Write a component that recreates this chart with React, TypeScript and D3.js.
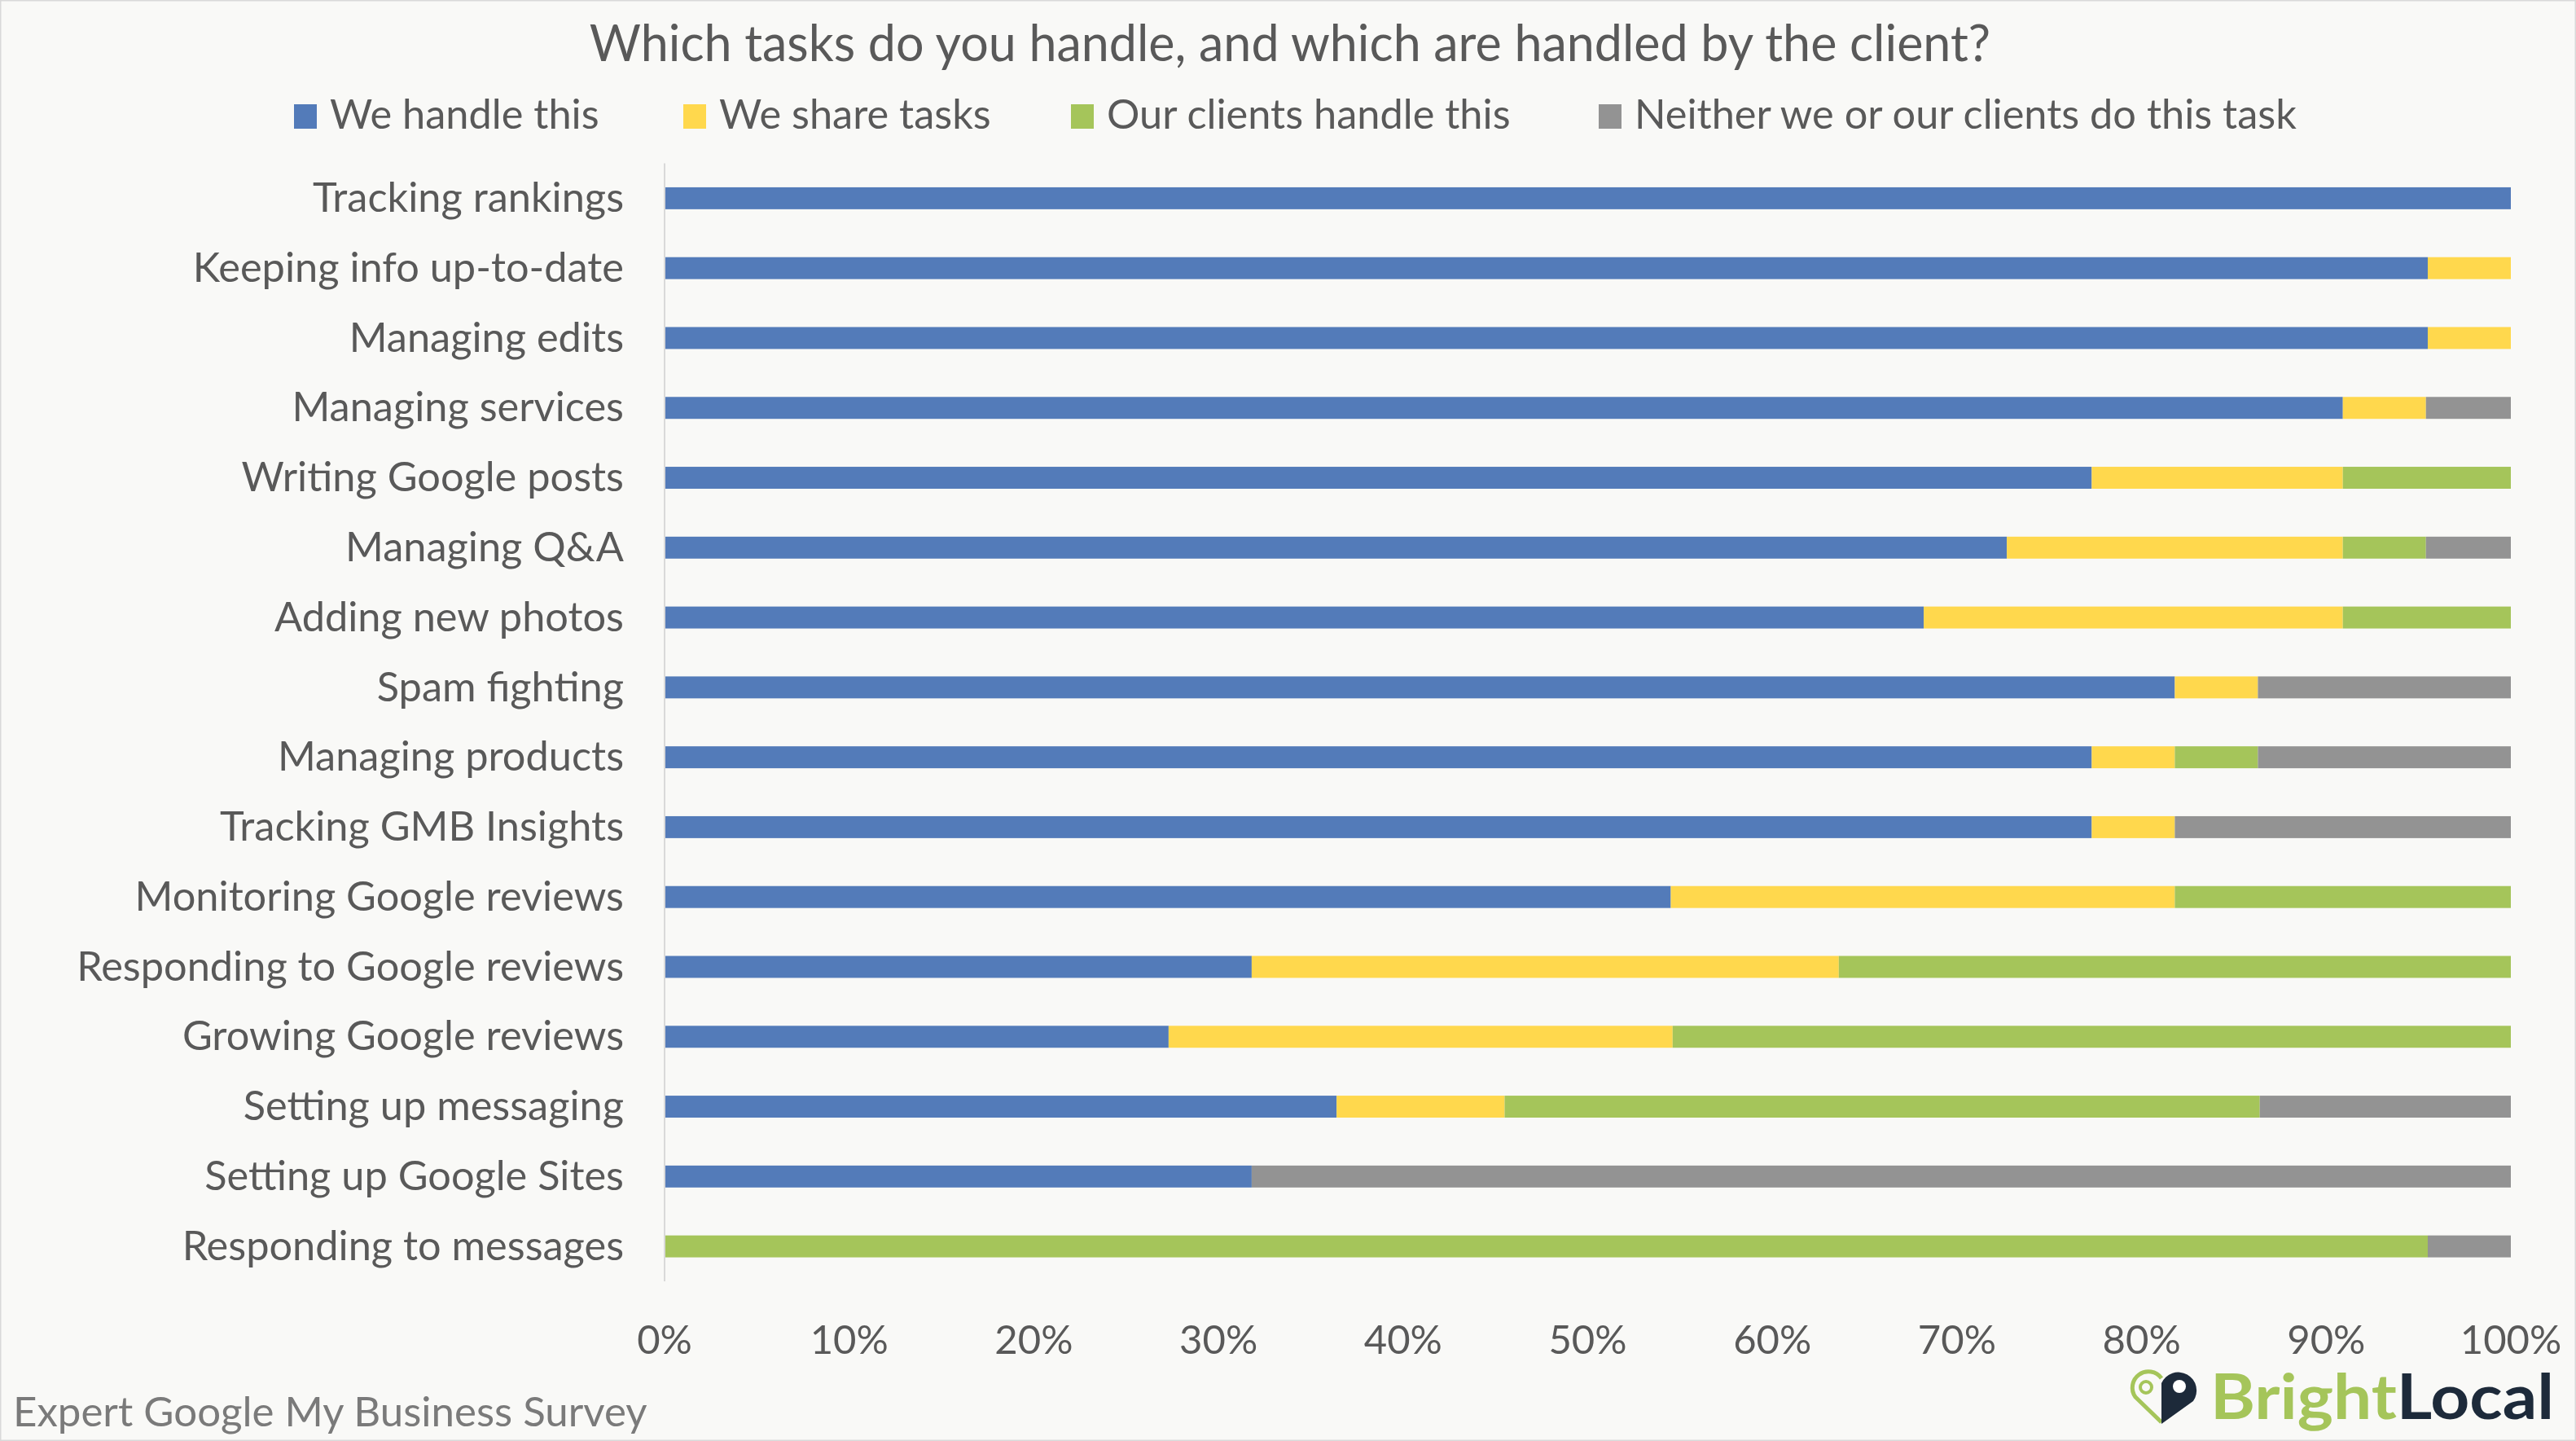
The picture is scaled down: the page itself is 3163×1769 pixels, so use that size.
import React from "react";
import * as d3 from "d3";

const categories = [
  "Tracking rankings",
  "Keeping info up-to-date",
  "Managing edits",
  "Managing services",
  "Writing Google posts",
  "Managing Q&A",
  "Adding new photos",
  "Spam fighting",
  "Managing products",
  "Tracking GMB Insights",
  "Monitoring Google reviews",
  "Responding to Google reviews",
  "Growing Google reviews",
  "Setting up messaging",
  "Setting up Google Sites",
  "Responding to messages",
];

const weHandle = [100, 95.5, 95.5, 90.9, 77.3, 72.7, 68.2, 81.8, 77.3, 77.3, 54.5, 31.8, 27.3, 36.4, 31.8, 0];
const weShare = [0, 4.5, 4.5, 4.5, 13.6, 18.2, 22.7, 4.5, 4.5, 4.5, 27.3, 31.8, 27.3, 9.1, 0, 0];
const clientsHandle = [0, 0, 0, 0, 9.1, 4.5, 9.1, 0, 4.5, 0, 18.2, 36.4, 45.4, 40.9, 0, 95.5];
const neither = [0, 0, 0, 4.6, 0, 4.6, 0, 13.7, 13.7, 18.2, 0, 0, 0, 13.6, 68.2, 4.5];

const seriesNames = ["We handle this", "We share tasks", "Our clients handle this", "Neither we or our clients do this task"];
const seriesKeys = ["we", "share", "clients", "neither"];
const seriesColors = ["#537bb9", "#ffd84d", "#a5c55a", "#939393"];
const tickValues = [0, 10, 20, 30, 40, 50, 60, 70, 80, 90, 100];

const W = 3163;
const H = 1769;
const FONT = "Lato, 'Open Sans', sans-serif";
const TEXT = "#595959";

export default function App() {
  const rows = categories.map((c, i) => ({
    cat: c,
    we: weHandle[i],
    share: weShare[i],
    clients: clientsHandle[i],
    neither: neither[i],
  }));
  const stacked = d3.stack<any>().keys(seriesKeys)(rows);

  const x = d3.scaleLinear().domain([0, 100]).range([816, 3083]);
  const y = d3
    .scaleBand<string>()
    .domain(categories)
    .range([200.5, 1573])
    .paddingInner(0.686)
    .paddingOuter(0.343);

  const legendX = [361, 839, 1315, 1963];

  return (
    <svg
      width={W}
      height={H}
      style={{ position: "absolute", left: 0, top: 0, display: "block" }}
      fontFamily={FONT}
    >
      <rect x={0.5} y={0.5} width={W - 1} height={H - 1} fill="#f9f9f7" stroke="#d9d9d9" strokeWidth={2} />

      <text x={1584} y={75} textAnchor="middle" fontSize={61} fill={TEXT}>
        Which tasks do you handle, and which are handled by the client?
      </text>

      {seriesNames.map((n, i) => (
        <g key={n}>
          <rect x={legendX[i]} y={128} width={28} height={30} fill={seriesColors[i]} />
          <text x={legendX[i] + 44} y={158} fontSize={50.5} fill={TEXT}>
            {n}
          </text>
        </g>
      ))}

      {stacked.map((s, si) => (
        <g key={s.key} fill={seriesColors[si]}>
          {s.map((d: any, i: number) => {
            const w = x(Math.min(d[1], 100)) - x(d[0]);
            if (w <= 0) return null;
            return (
              <rect
                key={i}
                x={x(d[0])}
                y={y(d.data.cat)}
                width={w}
                height={y.bandwidth()}
              />
            );
          })}
        </g>
      ))}

      <line x1={816} x2={816} y1={200.5} y2={1573} stroke="#d9d9d9" strokeWidth={2} />

      {categories.map((c) => (
        <text
          key={c}
          x={766}
          y={(y(c) as number) + y.bandwidth() / 2}
          dy="0.33em"
          textAnchor="end"
          fontSize={50.5}
          fill={TEXT}
        >
          {c}
        </text>
      ))}

      {tickValues.map((t) => (
        <text key={t} x={x(t)} y={1662} textAnchor="middle" fontSize={49} fill={TEXT}>
          {t}%
        </text>
      ))}

      <text x={16} y={1751} fontSize={51} fill="#7a7a7a">
        Expert Google My Business Survey
      </text>

      <g transform="translate(2613,1680)">
        <path d="M41,66 L9,35 A19,19 0 0 1 41,12" fill="none" stroke="#a5c55a" strokeWidth={5} strokeLinejoin="round" />
        <circle cx={22} cy={23} r={7} fill="none" stroke="#a5c55a" strokeWidth={4} />
        <path d="M41,68 L41,18 A22.5,22.5 0 1 1 80,40 Z" fill="#1d2a3a" />
        <circle cx={63} cy={22} r={8} fill="#ffffff" />
      </g>
      <text x={2714} y={1742} fontSize={76} fontWeight="bold" textLength={422} lengthAdjust="spacingAndGlyphs">
        <tspan fill="#a5c55a">Bright</tspan>
        <tspan fill="#1d2a3a">Local</tspan>
      </text>
    </svg>
  );
}
